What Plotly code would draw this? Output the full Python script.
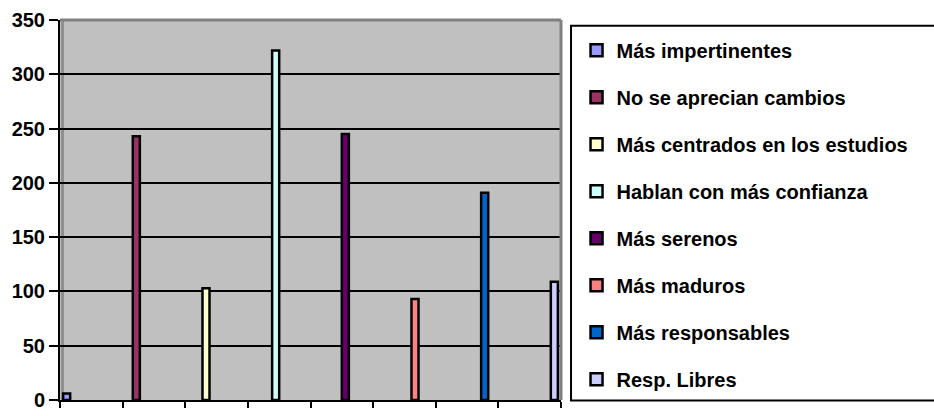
import plotly.graph_objects as go

# Survey responses: one column per answer
labels = [
    "Más impertinentes",
    "No se aprecian cambios",
    "Más centrados en los estudios",
    "Hablan con más confianza",
    "Más serenos",
    "Más maduros",
    "Más responsables",
    "Resp. Libres",
]
values = [6, 243, 103, 322, 245, 93, 191, 109]
colors = ["#9999FF", "#993366", "#FFFFCC", "#CCFFFF",
          "#660066", "#FF8080", "#0066CC", "#CCCCFF"]
categories = [f"c{i}" for i in range(len(labels))]
y_ticks = [0, 50, 100, 150, 200, 250, 300, 350]

font_family = "Arial, 'Liberation Sans', sans-serif"

fig = go.Figure()
for i, (name, val, col) in enumerate(zip(labels, values, colors)):
    fig.add_trace(go.Bar(
        x=[categories[i]],
        y=[val],
        name=name,
        legendgroup=name,
        offsetgroup=str(i),
        marker=dict(color=col, line=dict(color="black", width=2.5)),
    ))

fig.update_layout(
    width=934,
    height=416,
    margin=dict(l=60, r=373, t=20, b=5),
    paper_bgcolor="white",
    plot_bgcolor="#C0C0C0",
    barmode="group",
    bargap=0.1,
    bargroupgap=0,
    showlegend=True,
    legend=dict(
        x=1.031, xanchor="left",
        y=0.972, yanchor="top",
        bgcolor="rgba(0,0,0,0)",
        borderwidth=0,
        tracegroupgap=18,
        font=dict(family=font_family, size=20, color="black", weight="bold"),
        itemclick=False,
    ),
    font=dict(family=font_family, color="black"),
)

fig.update_xaxes(
    type="category",
    categoryorder="array",
    categoryarray=categories,
    showticklabels=False,
    tickson="boundaries",
    ticks="outside",
    ticklen=6,
    tickwidth=1.5,
    tickcolor="black",
    showgrid=False,
    showline=True,
    linecolor="black",
    linewidth=2,
)

fig.update_yaxes(
    range=[0, 350],
    tickvals=y_ticks,
    ticks="outside",
    ticklen=9,
    tickwidth=2,
    tickcolor="black",
    showgrid=True,
    gridcolor="black",
    gridwidth=2,
    showline=True,
    linecolor="black",
    linewidth=2,
    zeroline=False,
    tickfont=dict(family=font_family, size=20, color="black", weight="bold"),
)

# plot-area frame: gray top/right border and a shaded left wall
fig.add_shape(type="line", xref="paper", yref="paper", x0=0, x1=1, y0=1, y1=1,
              line=dict(color="#808080", width=3))
fig.add_shape(type="line", xref="paper", yref="paper", x0=1, x1=1, y0=0, y1=1,
              line=dict(color="#808080", width=3))
fig.add_shape(type="rect", xref="paper", yref="paper", x0=0.002, x1=0.008, y0=0, y1=1,
              fillcolor="#909090", line=dict(width=0), layer="below")

# legend frame
fig.add_shape(type="rect", xref="paper", yref="paper",
              x0=1.02, x1=1.75, y0=-0.001, y1=0.985,
              line=dict(color="black", width=2), fillcolor="rgba(0,0,0,0)")

fig.write_html("out.html")
